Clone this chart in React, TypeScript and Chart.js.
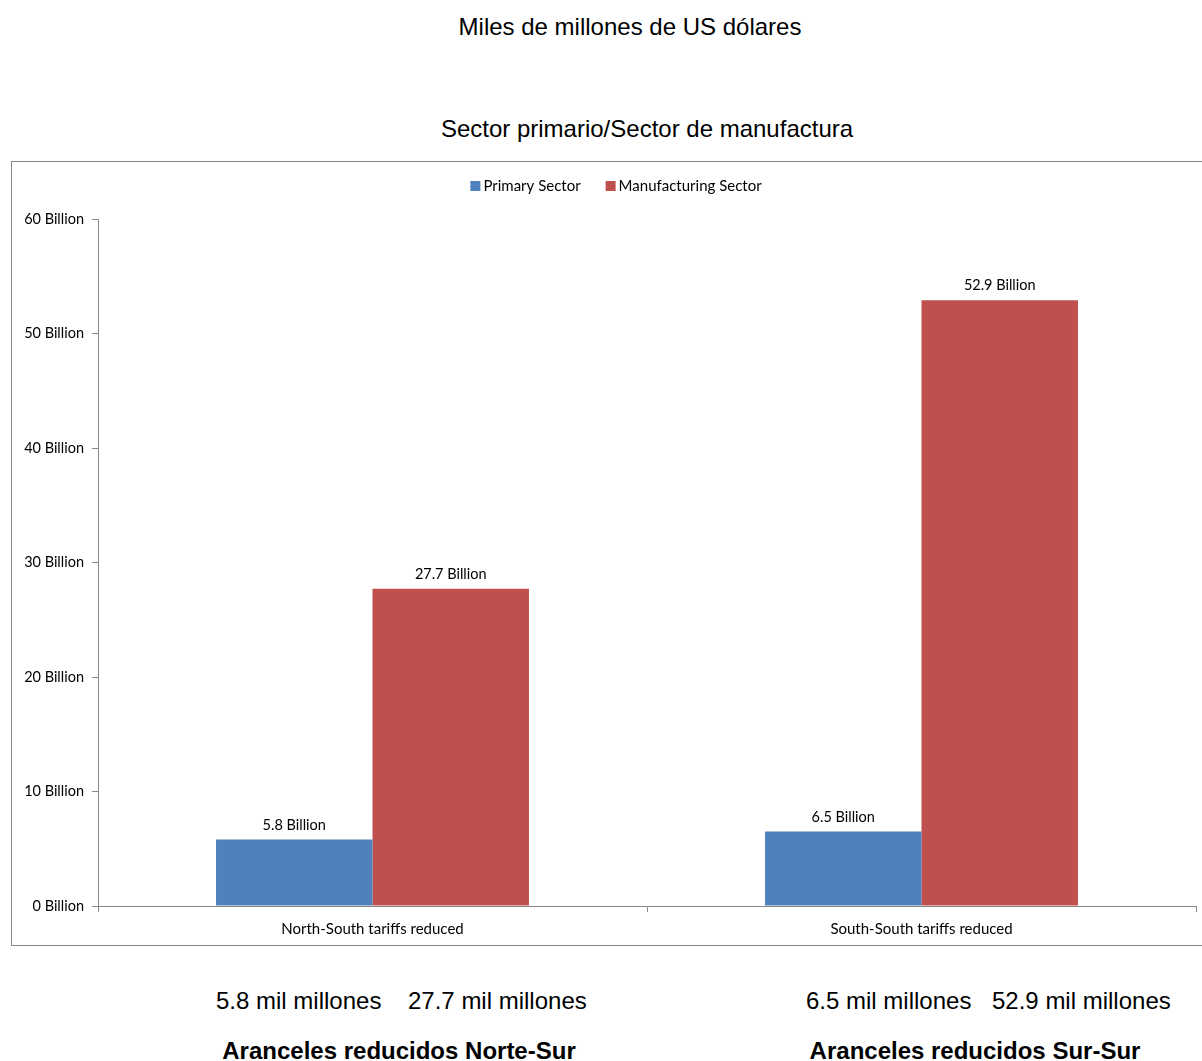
import React, { useEffect, useRef } from "react";
import { Chart, registerables } from "chart.js";

Chart.register(...registerables);

const categories = ["North-South tariffs reduced", "South-South tariffs reduced"];
const primaryValues = [5.8, 6.5];
const manufacturingValues = [27.7, 52.9];
const seriesNames = ["Primary Sector", "Manufacturing Sector"];
const yTicks = [0, 10, 20, 30, 40, 50, 60];
const bottomValueLabels = [
  ["5.8 mil millones", "27.7 mil millones"],
  ["6.5 mil millones", "52.9 mil millones"],
];
const bottomCategoryLabels = ["Aranceles reducidos Norte-Sur", "Aranceles reducidos Sur-Sur"];

const labelFont = "Lato, 'Open Sans', sans-serif";

const valueLabelPlugin = {
  id: "valueLabels",
  afterDatasetsDraw(chart: any) {
    const ctx = chart.ctx;
    ctx.save();
    ctx.font = `14.5px ${labelFont}`;
    ctx.fillStyle = "#000";
    ctx.textAlign = "center";
    ctx.textBaseline = "middle";
    chart.data.datasets.forEach((ds: any, di: number) => {
      const meta = chart.getDatasetMeta(di);
      meta.data.forEach((bar: any, i: number) => {
        ctx.fillText(`${ds.data[i]} Billion`, bar.x, bar.y - 14.5);
      });
    });
    ctx.restore();
  },
};

const legendPlugin = {
  id: "customLegend",
  afterDraw(chart: any) {
    const ctx = chart.ctx;
    ctx.save();
    ctx.font = `15px ${labelFont}`;
    ctx.textBaseline = "middle";
    ctx.textAlign = "left";
    const box = 10;
    const boxGap = 3;
    const itemGap = 25;
    const items = chart.data.datasets.map((ds: any) => ({
      label: ds.label,
      color: ds.backgroundColor,
      w: box + boxGap + ctx.measureText(ds.label).width,
    }));
    const total = items.reduce((a: number, it: any) => a + it.w, 0) + itemGap * (items.length - 1);
    let x = 604 - total / 2;
    const y = 24;
    items.forEach((it: any) => {
      ctx.fillStyle = it.color;
      ctx.fillRect(x, y - box / 2, box, box);
      ctx.fillStyle = "#000";
      ctx.fillText(it.label, x + box + boxGap, y + 0.5);
      x += it.w + itemGap;
    });
    ctx.restore();
  },
};

export default function App() {
  const ref = useRef<HTMLCanvasElement>(null);
  useEffect(() => {
    if (!ref.current) return;
    const chart = new Chart(ref.current, {
      type: "bar",
      data: {
        labels: categories,
        datasets: [
          { label: seriesNames[0], data: primaryValues, backgroundColor: "#4F81BD", borderWidth: 0 },
          { label: seriesNames[1], data: manufacturingValues, backgroundColor: "#C0504D", borderWidth: 0 },
        ],
      },
      options: {
        responsive: false,
        animation: false,
        layout: { padding: { top: 57, right: 6, left: 0, bottom: 0 } },
        plugins: {
          legend: { display: false },
          tooltip: { enabled: false },
          title: { display: false },
        },
        datasets: { bar: { categoryPercentage: 0.57, barPercentage: 1.0 } } as any,
        scales: {
          x: {
            grid: { display: true, drawOnChartArea: false, drawTicks: true, tickLength: 6, color: "#888", offset: true },
            border: { display: true, color: "#888" },
            ticks: { color: "#000", font: { size: 15, family: labelFont }, padding: 8 },
            afterFit: (s: any) => { s.height = 39; },
          },
          y: {
            min: 0,
            max: 60,
            afterBuildTicks: (s: any) => { s.ticks = yTicks.map((v) => ({ value: v })); },
            grid: { display: true, drawOnChartArea: false, drawTicks: true, tickLength: 6, color: "#888" },
            border: { display: true, color: "#888" },
            ticks: {
              color: "#000",
              font: { size: 14.5, family: labelFont },
              padding: 8,
              callback: (v: any) => `${v} Billion`,
            },
            afterFit: (s: any) => { s.width = 86; },
          },
        },
      },
      plugins: [valueLabelPlugin, legendPlugin],
    });
    return () => chart.destroy();
  }, []);

  const arial = "Arial, 'Liberation Sans', sans-serif";
  const text = (t: string, left: number, top: number, bold = false, center = false) => (
    <div
      key={t + left}
      style={{
        position: "absolute",
        left: center ? left - 400 : left,
        width: center ? 800 : undefined,
        textAlign: center ? "center" : "left",
        top,
        fontFamily: arial,
        fontSize: 24,
        lineHeight: "24px",
        fontWeight: bold ? "bold" : "normal",
        whiteSpace: "pre",
        color: "#000",
      }}
    >
      {t}
    </div>
  );

  return (
    <div style={{ position: "absolute", left: 0, top: 0, width: 1202, height: 1061, overflow: "hidden", background: "#fff" }}>
      {text("Miles de millones de US dólares", 630, 15, false, true)}
      {text("Sector primario/Sector de manufactura", 647, 117, false, true)}
      <div
        style={{
          position: "absolute",
          left: 11,
          top: 161,
          width: 1210,
          height: 785,
          boxSizing: "border-box",
          border: "1px solid #888",
        }}
      />
      <canvas ref={ref} width={1190} height={783} style={{ position: "absolute", left: 12, top: 162, width: 1190, height: 783 }} />
      {text(bottomValueLabels[0][0], 216, 989)}
      {text(bottomValueLabels[0][1], 408, 989)}
      {text(bottomValueLabels[1][0], 806, 989)}
      {text(bottomValueLabels[1][1], 992, 989)}
      {text(bottomCategoryLabels[0], 399, 1039, true, true)}
      {text(bottomCategoryLabels[1], 975, 1039, true, true)}
    </div>
  );
}
